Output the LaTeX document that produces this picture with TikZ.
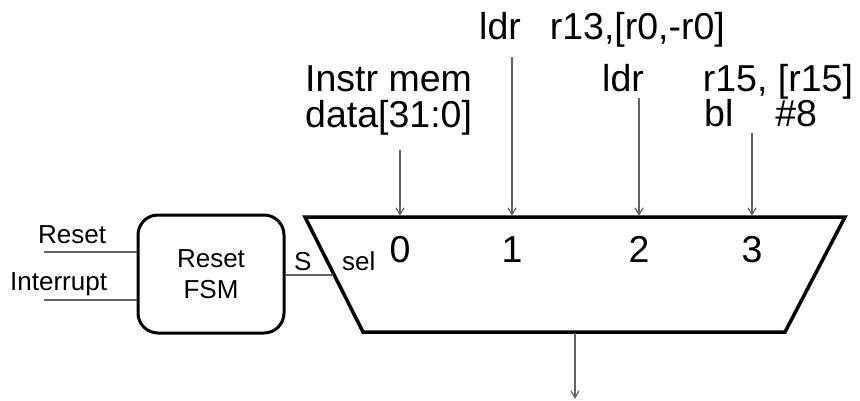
\documentclass[tikz,border=0pt]{standalone}
\usepackage{fontspec}
\setmainfont{Liberation Sans}
\usetikzlibrary{arrows.meta}

\tikzset{
    wire/.style={draw=black!62, line width=1.4pt},
    in arrow/.style={wire, -{Straight Barb[length=7pt,width=8pt,line width=1.2pt]}},
    big/.style={font=\fontsize{37.5}{45}\selectfont, inner sep=0pt},
    small/.style={font=\fontsize{26}{31}\selectfont, inner sep=0pt},
}

\begin{document}
\begin{tikzpicture}[x=1pt,y=-1pt]
    \useasboundingbox
        (0,0) rectangle (860,401)
        ;

    % the mux
    \coordinate (mux tl) at (305,217);
    \coordinate (mux tr) at (845,217);
    \coordinate (mux br) at (785,332);
    \coordinate (mux bl) at (363,332);

    \draw [line width=3.5pt, line join=miter]
        (mux tl) -- (mux tr) -- (mux br) -- (mux bl) -- cycle
        ;

    \coordinate (in0) at (400,216);
    \coordinate (in1) at (512,216);
    \coordinate (in2) at (639,216);
    \coordinate (in3) at (752,216);
    \coordinate (sel) at (333,275);
    \coordinate (out) at (575,333);
    \coordinate (out end) at (575,399);

    \node [big, anchor=base] (d0) at (400,262) {0};
    \node [big, anchor=base] (d1) at (512,262) {1};
    \node [big, anchor=base] (d2) at (639,262) {2};
    \node [big, anchor=base] (d3) at (752,262) {3};

    \node [small, anchor=base west] (sel label) at (342,270) {sel};

    % inputs
    \node [big, anchor=base west] (instr) at (305,92) {Instr mem};
    \node [big, anchor=base west] (data) at (305,128) {data[31:0]};
    \node [big, anchor=base west] (ldr a) at (479,40) {ldr\hspace{29pt}r13,[r0,-r0]};
    \node [big, anchor=base west] (ldr b) at (602,92) {ldr\hspace{59pt}r15, [r15]};
    \node [big, anchor=base west] (bl) at (704,127) {bl\hspace{42pt}\#8};

    \coordinate (src0) at (400,150);
    \coordinate (src1) at (512,57);
    \coordinate (src2) at (639,98);
    \coordinate (src3) at (752,133);

    \draw [in arrow] (src0) -- (in0);
    \draw [in arrow] (src1) -- (in1);
    \draw [in arrow] (src2) -- (in2);
    \draw [in arrow] (src3) -- (in3);

    \draw [in arrow]
        (out) -- (out end)
        ;

    % reset fsm
    \node [small, draw, line width=3pt, rounded corners=20pt,
           minimum width=146pt, minimum height=118pt, align=center]
        (fsm) at (211,274) {Reset\\FSM};

    \coordinate (reset in) at (44,252);
    \coordinate (int in) at (44,300);

    \draw [wire]
        (reset in) -- (reset in -| fsm.west)
        ;
    \draw [wire]
        (int in) -- (int in -| fsm.west)
        ;
    \draw [wire]
        (sel -| fsm.east) -- (sel)
        ;

    \node [small, anchor=base west] (reset label) at (38,243) {Reset};
    \node [small, anchor=base west] (int label) at (10,290) {Interrupt};
    \node [small, anchor=base west] (s label) at (294,270) {S};
\end{tikzpicture}
\end{document}
